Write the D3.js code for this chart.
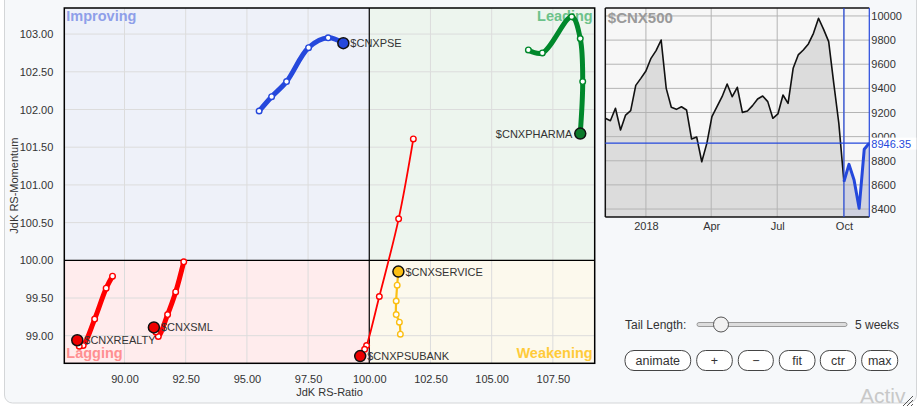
<!DOCTYPE html>
<html>
<head>
<meta charset="utf-8">
<script src="https://cdn.jsdelivr.net/npm/d3@7/dist/d3.min.js"></script>
<style>
  body { margin: 0; background: #ffffff; }
  svg { display: block; font-family: "Liberation Sans", Arial, sans-serif; }
</style>
</head>
<body>
<svg id="chart" width="920" height="410"></svg>
<script>
// ---------------- DATA ----------------
const rrgNames = ["$CNXPSE", "$CNXPHARMA", "$CNXSERVICE", "$CNXPSUBANK", "$CNXREALTY", "$CNXSML"];
const pseRatio      = [95.50, 96.01, 96.62, 97.52, 98.32, 98.94];
const pseMomentum   = [101.98, 102.17, 102.37, 102.82, 102.95, 102.88];
const pharmaRatio   = [106.50, 107.07, 108.27, 108.62, 108.72, 108.62];
const pharmaMomentum= [102.79, 102.75, 103.23, 102.94, 102.37, 101.68];
const serviceRatio  = [101.27, 101.23, 101.10, 101.10, 101.14, 101.19];
const serviceMomentum=[99.02, 99.18, 99.28, 99.46, 99.67, 99.85];
const psubankRatio  = [101.80, 101.20, 100.41, 99.89, 99.81, 99.63];
const psubankMomentum=[101.61, 100.55, 99.52, 98.87, 98.82, 98.73];
const realtyRatio   = [89.51, 89.25, 88.78, 88.31, 88.15, 88.07];
const realtyMomentum= [99.79, 99.63, 99.22, 98.87, 98.86, 98.94];
const smlRatio      = [92.42, 92.09, 91.76, 91.38, 91.28, 91.20];
const smlMomentum   = [99.98, 99.58, 99.28, 98.99, 99.05, 99.11];

const ratioTicks    = [90, 92.5, 95, 97.5, 100, 102.5, 105, 107.5];
const momentumTicks = [99, 99.5, 100, 100.5, 101, 101.5, 102, 102.5, 103];
const quadrantNames = ["Improving", "Leading", "Lagging", "Weakening"];

// benchmark weekly closes ($CNX500), first week 2017-11-06
const priceStart = "2017-11-06";
const priceValues = [9152, 9132, 9235, 9055, 9179, 9215, 9425, 9483, 9544, 9649, 9713, 9801,
  9400, 9243, 9226, 9248, 9221, 8980, 8997, 8792, 8944, 9166, 9248, 9331, 9436, 9331, 9409,
  9201, 9212, 9257, 9312, 9337, 9290, 9152, 9188, 9345, 9276, 9566, 9677, 9718, 9768, 9856,
  9981, 9889, 9787, 9442, 9110, 8627, 8770, 8641, 8406, 8895, 8946.35];
const priceTicks = [8400, 8600, 8800, 9000, 9200, 9400, 9600, 9800, 10000];
const dateTicks = ["2018-01-01", "2018-04-01", "2018-07-01", "2018-10-01"];
const tailWeeks = 5;
const buttonLabels = ["animate", "+", "\u2212", "fit", "ctr", "max"];

// ---------------- STYLE ----------------
const seriesStyle = [
  { color: "#2548dc", width: 5,   dot: "#2548dc" },
  { color: "#00882b", width: 5,   dot: "#0b7a2a" },
  { color: "#fbbf14", width: 2.2, dot: "#fbbf14" },
  { color: "#ff0000", width: 1.8, dot: "#ee0000" },
  { color: "#ff0000", width: 5,   dot: "#ee0000" },
  { color: "#ff0000", width: 5,   dot: "#ee0000" }
];
const labelSide = ["right", "left", "right", "right", "right", "right"];

const svg = d3.select("#chart");

// outer panel
svg.append("rect").attr("x", 4.5).attr("y", -10).attr("width", 912).attr("height", 413)
  .attr("rx", 8).attr("fill", "#f6f8fa").attr("stroke", "#d4d6d8");

// ---------------- RRG ----------------
const L = 64.3, R = 594.7, T = 8, B = 363.3;
const x = d3.scaleLinear().domain([87.54, 109.21]).range([L, R]);
const y = d3.scaleLinear().domain([98.634, 103.346]).range([B, T]);

const rrg = svg.append("g");
const cx = x(100), cy = y(100);
const quadColors = ["#eef1f9", "#edf5ee", "#ffeced", "#fcf9ed"];
const quadRects = [[L, T, cx, cy], [cx, T, R, cy], [L, cy, cx, B], [cx, cy, R, B]];
quadRects.forEach((q, i) => {
  rrg.append("rect").attr("x", q[0]).attr("y", q[1]).attr("width", q[2] - q[0]).attr("height", q[3] - q[1])
    .attr("fill", quadColors[i]);
});

// grid
rrg.append("g").selectAll("line").data(ratioTicks.filter(d => d !== 100)).join("line")
  .attr("x1", d => x(d)).attr("x2", d => x(d)).attr("y1", T).attr("y2", B)
  .attr("stroke", "#dcdcdc").attr("stroke-width", 1);
rrg.append("g").selectAll("line").data(momentumTicks.filter(d => d !== 100)).join("line")
  .attr("y1", d => y(d)).attr("y2", d => y(d)).attr("x1", L).attr("x2", R)
  .attr("stroke", "#dcdcdc").attr("stroke-width", 1);

// center lines
rrg.append("line").attr("x1", cx).attr("x2", cx).attr("y1", T).attr("y2", B).attr("stroke", "#000").attr("stroke-width", 1.2);
rrg.append("line").attr("y1", cy).attr("y2", cy).attr("x1", L).attr("x2", R).attr("stroke", "#000").attr("stroke-width", 1.2);
rrg.append("rect").attr("x", L).attr("y", T).attr("width", R - L).attr("height", B - T)
  .attr("fill", "none").attr("stroke", "#000").attr("stroke-width", 1.5);

// axes
const xAxis = rrg.append("g").attr("transform", `translate(0,${B})`)
  .call(d3.axisBottom(x).tickValues(ratioTicks).tickFormat(d3.format(".2f")).tickSize(0).tickPadding(12));
const yAxis = rrg.append("g").attr("transform", `translate(${L},0)`)
  .call(d3.axisLeft(y).tickValues(momentumTicks).tickFormat(d3.format(".2f")).tickSize(0).tickPadding(11));
[xAxis, yAxis].forEach(a => {
  a.select(".domain").remove();
  a.selectAll("text").attr("font-size", 11).attr("fill", "#333").attr("font-family", "Liberation Sans, Arial, sans-serif");
});

rrg.append("text").attr("x", (L + R) / 2).attr("y", 396).attr("text-anchor", "middle")
  .attr("font-size", 11).attr("fill", "#333").text("JdK RS-Ratio");
rrg.append("text").attr("transform", `translate(17.5,${(T + B) / 2}) rotate(-90)`).attr("text-anchor", "middle")
  .attr("font-size", 11).attr("fill", "#333").text("JdK RS-Momentum");

// quadrant labels
const qlabelStyle = [
  { x: L + 2, y: T + 13, anchor: "start", color: "#8e9fe9" },
  { x: R - 2, y: T + 13, anchor: "end", color: "#6cc28a" },
  { x: L + 2, y: B - 5, anchor: "start", color: "#ff8f91" },
  { x: R - 2, y: B - 5, anchor: "end", color: "#ffcb3a" }
];
quadrantNames.forEach((n, i) => {
  const s = qlabelStyle[i];
  rrg.append("text").attr("x", s.x).attr("y", s.y).attr("text-anchor", s.anchor)
    .attr("font-size", 14.5).attr("font-weight", "bold").attr("fill", s.color).text(n);
});

// series
const ratios = [pseRatio, pharmaRatio, serviceRatio, psubankRatio, realtyRatio, smlRatio];
const moms = [pseMomentum, pharmaMomentum, serviceMomentum, psubankMomentum, realtyMomentum, smlMomentum];
const line = d3.line().x(d => x(d[0])).y(d => y(d[1])).curve(d3.curveCatmullRom.alpha(0.5));
const clip = svg.append("defs").append("clipPath").attr("id", "rrgclip");
clip.append("rect").attr("x", L).attr("y", T).attr("width", R - L).attr("height", B - T);
const seriesG = rrg.append("g").attr("clip-path", "url(#rrgclip)");

rrgNames.forEach((name, i) => {
  const pts = ratios[i].map((r, k) => [r, moms[i][k]]);
  const st = seriesStyle[i];
  seriesG.append("path").attr("d", line(pts)).attr("fill", "none").attr("stroke", st.color)
    .attr("stroke-width", st.width).attr("stroke-linecap", "round").attr("stroke-linejoin", "round");
  const tail = pts.slice(0, pts.length - 1);
  seriesG.selectAll(null).data(tail).join("circle")
    .attr("cx", d => x(d[0])).attr("cy", d => y(d[1])).attr("r", 2.8)
    .attr("fill", "#fff").attr("stroke", st.color).attr("stroke-width", 1.4);
  const last = pts[pts.length - 1];
  seriesG.append("circle").attr("cx", x(last[0])).attr("cy", y(last[1])).attr("r", 5.5)
    .attr("fill", st.dot).attr("stroke", "#111").attr("stroke-width", 1.5);
  const right = labelSide[i] === "right";
  rrg.append("text").attr("x", x(last[0]) + (right ? 7 : -8)).attr("y", y(last[1]) + 4)
    .attr("text-anchor", right ? "start" : "end").attr("font-size", 11).attr("fill", "#333").text(name);
});

// ---------------- PRICE CHART ----------------
const PL = 605.3, PR = 869.3, PT = 8, PB = 217;
const parse = d3.utcParse("%Y-%m-%d");
const start = parse(priceStart);
const priceData = priceValues.map((v, i) => ({ date: d3.utcDay.offset(start, 7 * i), value: v }));
const xp = d3.scaleUtc().domain([priceData[0].date, priceData[priceData.length - 1].date]).range([PL, PR]);
const yp = d3.scaleLinear().domain([8334, 10066]).range([PB, PT]);

const pg = svg.append("g");
pg.append("rect").attr("x", PL).attr("y", PT).attr("width", PR - PL).attr("height", PB - PT).attr("fill", "#f7f7f7");

const tailStartIdx = priceData.length - 1 - tailWeeks;
const mainData = priceData.slice(0, tailStartIdx + 1);
const tailData = priceData.slice(tailStartIdx);
const area = d3.area().x(d => xp(d.date)).y0(PB).y1(d => yp(d.value));
const pline = d3.line().x(d => xp(d.date)).y(d => yp(d.value));

pg.append("path").attr("d", area(mainData)).attr("fill", "#dcdcdc");
pg.append("path").attr("d", area(tailData)).attr("fill", "#cfd1e0");

// grid
pg.append("g").selectAll("line").data(priceTicks).join("line")
  .attr("x1", PL).attr("x2", PR).attr("y1", d => yp(d)).attr("y2", d => yp(d))
  .attr("stroke", "#b4b4b4").attr("stroke-width", 1);
pg.append("g").selectAll("line").data(dateTicks.map(parse)).join("line")
  .attr("x1", d => xp(d)).attr("x2", d => xp(d)).attr("y1", PT).attr("y2", PB)
  .attr("stroke", "#b4b4b4").attr("stroke-width", 1);

pg.append("path").attr("d", pline(mainData)).attr("fill", "none").attr("stroke", "#111").attr("stroke-width", 1.6)
  .attr("stroke-linejoin", "round");
pg.append("path").attr("d", pline(tailData)).attr("fill", "none").attr("stroke", "#2548dc").attr("stroke-width", 3)
  .attr("stroke-linejoin", "round");

// frame
pg.append("line").attr("x1", PL).attr("x2", PR).attr("y1", PT).attr("y2", PT).attr("stroke", "#111").attr("stroke-width", 1.5);
pg.append("line").attr("x1", PL).attr("x2", PR).attr("y1", PB).attr("y2", PB).attr("stroke", "#111").attr("stroke-width", 1.5);
pg.append("line").attr("x1", PL).attr("x2", PL).attr("y1", PT).attr("y2", PB).attr("stroke", "#111").attr("stroke-width", 1.5);

// crosshair lines (blue)
const lastP = priceData[priceData.length - 1];
pg.append("line").attr("x1", xp(tailData[0].date)).attr("x2", xp(tailData[0].date)).attr("y1", PT).attr("y2", PB)
  .attr("stroke", "#2548dc").attr("stroke-width", 1.2);
pg.append("line").attr("x1", PR).attr("x2", PR).attr("y1", PT).attr("y2", PB)
  .attr("stroke", "#2548dc").attr("stroke-width", 1.2);
pg.append("line").attr("x1", PL).attr("x2", PR).attr("y1", yp(lastP.value)).attr("y2", yp(lastP.value))
  .attr("stroke", "#2548dc").attr("stroke-width", 1.2);

// axes
const ypAxis = pg.append("g").attr("transform", `translate(${PR},0)`)
  .call(d3.axisRight(yp).tickValues(priceTicks).tickFormat(d3.format("d")).tickSize(0).tickPadding(2));
const xpAxis = pg.append("g").attr("transform", `translate(0,${PB})`)
  .call(d3.axisBottom(xp).tickValues(dateTicks.map(parse)).tickFormat(d => d.getUTCMonth() === 0 ? d3.utcFormat("%Y")(d) : d3.utcFormat("%b")(d)).tickSize(0).tickPadding(5));
[ypAxis, xpAxis].forEach(a => {
  a.select(".domain").remove();
  a.selectAll("text").attr("font-size", 11).attr("fill", "#333").attr("font-family", "Liberation Sans, Arial, sans-serif");
});

// last value label
pg.append("rect").attr("x", PR + 1).attr("y", yp(lastP.value) - 5.5).attr("width", 46).attr("height", 12).attr("fill", "#fff");
pg.append("text").attr("x", PR + 2).attr("y", yp(lastP.value) + 4.5).attr("font-size", 11).attr("fill", "#2548dc")
  .text(d3.format(".2f")(lastP.value));

pg.append("text").attr("x", PL + 2.5).attr("y", PT + 15).attr("font-size", 15).attr("font-weight", "bold")
  .attr("fill", "#9a9a9a").text("$CNX500");

// ---------------- CONTROLS ----------------
const cg = svg.append("g");
cg.append("text").attr("x", 625).attr("y", 329).attr("font-size", 12).attr("fill", "#333").text("Tail Length:");
cg.append("rect").attr("x", 697).attr("y", 322.5).attr("width", 150).attr("height", 4).attr("rx", 2)
  .attr("fill", "#dddddd").attr("stroke", "#888").attr("stroke-width", 0.8);
cg.append("circle").attr("cx", 721).attr("cy", 324.5).attr("r", 7.5).attr("fill", "#f2f2f2").attr("stroke", "#555").attr("stroke-width", 1);
cg.append("text").attr("x", 855).attr("y", 329).attr("font-size", 12).attr("fill", "#333").text(tailWeeks + " weeks");

const btnX = [625, 696.7, 738.3, 779.3, 820.3, 861.7];
const btnW = [65.7, 35.6, 35, 35.7, 35.4, 36];
buttonLabels.forEach((b, i) => {
  cg.append("rect").attr("x", btnX[i]).attr("y", 350.5).attr("width", btnW[i]).attr("height", 20).attr("rx", 9)
    .attr("fill", "#fff").attr("stroke", "#444").attr("stroke-width", 1);
  cg.append("text").attr("x", btnX[i] + btnW[i] / 2).attr("y", 364.5).attr("text-anchor", "middle")
    .attr("font-size", 12.5).attr("fill", "#333").text(b);
});

// watermark & resize handle
svg.append("text").attr("x", 860).attr("y", 403).attr("font-size", 21).attr("fill", "#c8c8c8").text("Activ");
const rh = svg.append("g").attr("stroke", "#555").attr("stroke-width", 1);
[[903, 406, 913, 396], [907, 406, 913, 400], [911, 406, 913, 404]].forEach(l => {
  rh.append("line").attr("x1", l[0]).attr("y1", l[1]).attr("x2", l[2]).attr("y2", l[3]);
});
</script>
</body>
</html>
